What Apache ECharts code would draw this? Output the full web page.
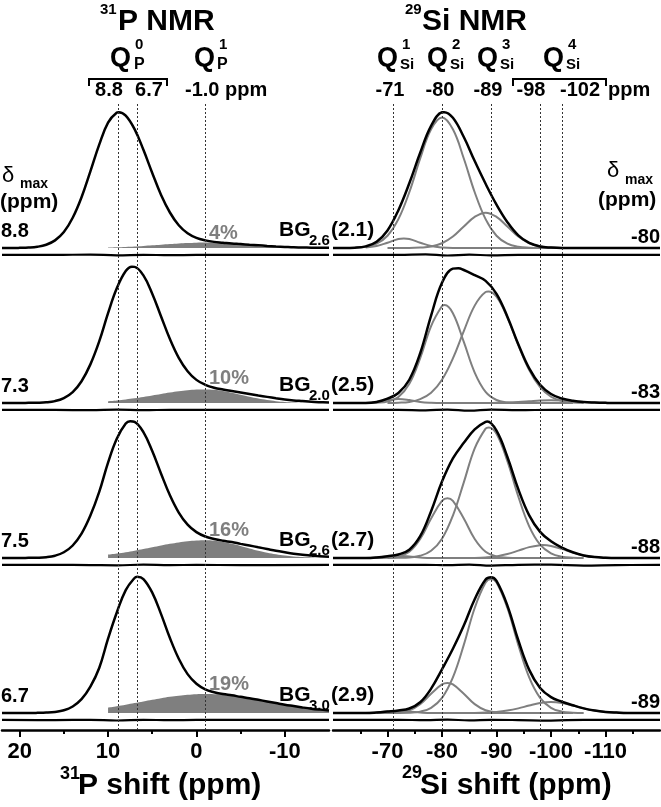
<!DOCTYPE html>
<html><head><meta charset="utf-8">
<script src="https://cdn.jsdelivr.net/npm/echarts@6/dist/echarts.min.js"></script>
<style>html,body{margin:0;padding:0;background:#fff}#c{width:661px;height:807px}</style>
</head><body><div id="c"></div>
<script>
// ---------- DATA ----------
// 31P panel: chemical shift grid (ppm)
const P_X = [22,21,20,19,18,17,16,15,14,13,12,11,10,9,8,7,6,5,4,3,2,1,0,-1,-2,-3,-4,-5,-6,-7,-8,-9,-10,-11,-12,-13,-14,-15];
const P_FILL_X = [10,9,8,7,6,5,4,3,2,1,0,-1,-2,-3,-4,-5,-6,-7,-8,-9,-10,-11,-12,-13,-14,-15];
const P1_SPEC = [0,0,0.1,0.3,0.9,2.4,5.6,11.7,22.2,37.3,56.3,76.0,92.2,99.6,97.4,87.4,72.2,55.2,39.0,26.1,16.7,10.8,7.4,5.6,4.5,3.9,3.3,2.9,2.4,2.0,1.5,1.1,0.8,0.5,0.4,0.2,0.15,0.1];
const P2_SPEC = [0,0,0,0.1,0.2,0.5,1.4,3.6,8.0,16.0,28.4,45.3,66.1,84.5,97.0,100.1,93.8,80.4,63.6,47.0,33.2,23.4,17.0,13.4,11.2,9.9,8.8,7.7,6.6,5.5,4.5,3.5,2.6,1.9,1.4,0.9,0.6,0.4];
const P3_SPEC = [0,0,0,0.1,0.2,0.6,1.7,4.2,9.2,17.9,31.2,48.6,70.2,87.9,98.9,100.1,92.6,78.6,62.0,46.1,33.4,24.5,19.0,15.8,14.0,12.7,11.7,10.4,9.2,7.9,6.6,5.3,4.2,3.2,2.4,1.8,1.2,0.9];
const P4_SPEC = [0,0,0,0,0.1,0.3,0.8,2.0,4.8,10.2,19.4,33.1,54.7,74.1,90.4,99.3,98.5,88.5,72.7,55.1,39.9,28.6,21.5,17.4,15.3,13.9,13.0,11.9,10.9,9.7,8.5,7.3,6.1,5.1,4.1,3.2,2.5,1.9];
// apex of each 31P spectrum [ppm, intensity]
const P_APEX = [[8.8,99.9],[7.3,100.2],[7.5,100.6],[6.7,100.1]];
// Q1(P) component (grey area)
const P1_Q1 = [0.36,0.54,0.79,1.11,1.5,1.95,2.43,2.9,3.34,3.69,3.92,4,3.88,3.53,3.02,2.43,1.83,1.30,0.87,0.54,0.32,0.18,0.09,0.04,0.02,0.01];
const P2_Q1 = [1.35,1.91,2.62,3.47,4.45,5.51,6.61,7.68,8.62,9.36,9.84,10,9.69,8.82,7.55,6.07,4.58,3.25,2.16,1.35,0.80,0.44,0.23,0.11,0.05,0.02];
const P3_Q1 = [2.42,3.24,4.22,5.34,6.58,7.88,9.19,10.41,11.47,12.30,12.82,13,12.68,11.78,10.41,8.76,7.01,5.35,3.88,2.68,1.76,1.10,0.65,0.37,0.2,0.1];
const P4_Q1 = [4.07,5.05,6.13,7.29,8.49,9.69,10.85,11.89,12.77,13.44,13.86,14,13.86,13.44,12.77,11.89,10.85,9.69,8.49,7.29,6.13,5.05,4.07,3.22,2.50,1.89];
const P_RES_X = [22,16,12,9,6,3,0,-5,-15];
const P1_RES = [-5.1,-5.1,-4.8,-5.4,-5.0,-5.3,-5.1,-5.1,-5.1];
const P2_RES = [-5.1,-5.1,-5.3,-4.9,-5.3,-5.0,-5.1,-5.1,-5.1];
const P3_RES = [-5.1,-5.0,-5.2,-5.4,-4.9,-5.2,-5.1,-5.2,-5.1];
const P4_RES = [-5.1,-5.2,-5.0,-5.5,-5.0,-5.3,-5.1,-5.1,-5.1];

// 29Si panel
const SI_X = [-60,-62,-64,-66,-68,-70,-72,-74,-76,-78,-80,-82,-84,-86,-88,-90,-92,-94,-96,-98,-100,-102,-104,-106,-108,-110,-112,-114,-116,-118,-120];
const S1_SPEC = [0,0,0.2,1.2,4.6,12.9,27.8,47.6,70.0,89.8,99.8,95.7,81.6,63.9,47.2,31.9,19.0,9.3,3.7,1.1,0.3,0,0,0,0,0,0,0,0,0,0];
const S2_SPEC = [0,0,0,0,0.8,3.2,7.4,17.1,36.6,64.3,88.4,98.8,97.8,94.0,89.8,80.3,63.5,43.2,25.4,13.4,6.6,3.3,1.6,0.65,0.3,0.1,0,0,0,0,0];
const S3_SPEC = [0,0,0,0,0.4,1.3,2.6,6.1,16.0,34.4,56.2,73.2,84.7,94.6,100.1,93.6,74.3,50.6,31.3,19.2,12.3,7.6,4.2,1.9,0.7,0.2,0,0,0,0,0];
const S4_SPEC = [0,0,0,0,0.4,1.1,1.9,3.3,7.9,17.9,32.1,47.2,64.3,83.7,98.2,97.1,79.0,53.5,31.7,18.4,11.7,8.3,5.7,3.4,1.8,0.8,0.3,0,0,0,0];
// apex of each 29Si spectrum [ppm, intensity]
const S_APEX = [[-80.4,99.9],[-83,99.1],[-88.3,100.3],[-89,99.9]];
// deconvoluted components [ppm, intensity]
const S1_Q1 = [[-66,0.3],[-68,1.4],[-70,3.9],[-72,6.6],[-73,7.0],[-74,6.6],[-76,3.9],[-78,1.4],[-80,0.3],[-82,0],[-104,0]];
const S1_Q2 = [[-64,0.2],[-66,0.9],[-68,3.2],[-70,9.0],[-72,21.2],[-74,41.0],[-76,65.8],[-78,87.3],[-80,96],[-82,87.3],[-84,65.8],[-86,41.0],[-88,21.2],[-90,9.0],[-92,3.2],[-94,0.9],[-96,0.2],[-98,0],[-104,0]];
const S1_Q3 = [[-70,0],[-74,0],[-76,0.3],[-78,1.1],[-80,3.5],[-82,8.4],[-84,15.8],[-86,22.9],[-88,26],[-90,22.9],[-92,15.8],[-94,8.4],[-96,3.5],[-98,1.1],[-100,0.3],[-102,0],[-104,0]];
const S2_Q1 = [[-66,0],[-68,0.8],[-70,2.2],[-72,3],[-74,2.2],[-76,0.8],[-78,0.2],[-80,0],[-104,0]];
const S2_Q2 = [[-66,0],[-68,0.2],[-70,1.0],[-72,4.4],[-74,14.1],[-76,33.0],[-78,56.6],[-80,71.3],[-80.5,72],[-82,66.0],[-84,44.9],[-86,22.4],[-88,8.2],[-90,2.2],[-92,0.4],[-94,0],[-104,0]];
const S2_Q3 = [[-70,0],[-72,0.2],[-74,0.8],[-76,2.8],[-78,7.5],[-80,17.1],[-82,32.8],[-84,52.9],[-86,71.6],[-88,81.6],[-88.5,82],[-90,78.1],[-92,62.8],[-94,42.5],[-96,24.2],[-98,11.6],[-100,4.6],[-102,1.5],[-104,0.4],[-106,0]];
const S2_Q4 = [[-88,0],[-90,0.1],[-92,0.3],[-94,0.65],[-96,1.2],[-98,1.8],[-100,2],[-102,1.8],[-104,1.2],[-106,0.65],[-108,0.3],[-110,0.1],[-112,0]];
const S3_Q1 = [[-66,0],[-68,0.4],[-70,1.1],[-72,1.5],[-74,1.1],[-76,0.4],[-78,0],[-104,0]];
const S3_Q2 = [[-66,0],[-68,0],[-70,0.2],[-72,1.1],[-74,4.6],[-76,14.0],[-78,29.1],[-80,42.0],[-81,44],[-82,42.0],[-84,29.1],[-86,14.0],[-88,4.6],[-90,1.1],[-92,0.2],[-94,0],[-104,0]];
const S3_Q3 = [[-70,0],[-72,0.1],[-74,0.4],[-76,1.6],[-78,5.3],[-80,14.2],[-82,31.2],[-84,55.6],[-86,80.6],[-88,95.1],[-88.6,96],[-90,91.3],[-92,71.2],[-94,45.2],[-96,23.3],[-98,9.8],[-100,3.4],[-102,0.9],[-104,0.2],[-106,0]];
const S3_Q4 = [[-86,0],[-88,0.4],[-90,1.2],[-92,2.9],[-94,5.4],[-96,8.0],[-98,9.4],[-98.5,9.5],[-100,8.9],[-102,6.7],[-104,4.0],[-106,1.9],[-108,0.7],[-110,0.2],[-112,0]];
const S4_Q1 = [[-66,0],[-68,0.4],[-70,1.1],[-72,1.5],[-74,1.1],[-76,0.4],[-78,0],[-104,0]];
const S4_Q2 = [[-68,0],[-70,0],[-72,0.4],[-74,2.0],[-76,6.5],[-78,14.2],[-80,21.0],[-81,22],[-82,21.0],[-84,14.2],[-86,6.5],[-88,2.0],[-90,0.4],[-92,0],[-104,0]];
const S4_Q3 = [[-70,0],[-74,0.2],[-76,1.0],[-78,3.8],[-80,11.1],[-82,26.2],[-84,50.1],[-86,77.2],[-88,95.9],[-89,98.5],[-90,95.9],[-92,77.2],[-94,50.1],[-96,26.2],[-98,11.1],[-100,3.8],[-102,1.0],[-104,0.2],[-106,0]];
const S4_Q4 = [[-86,0],[-88,0.3],[-90,0.8],[-92,1.8],[-94,3.4],[-96,5.5],[-98,7.3],[-100,8],[-102,7.3],[-104,5.5],[-106,3.4],[-108,1.8],[-110,0.8],[-112,0.3],[-114,0]];
const SI_RES_X = [-60,-72,-77,-81,-85,-89,-94,-100,-106,-112,-120];
const S1_RES = [-5.1,-5.1,-4.7,-5.5,-4.9,-5.4,-5.0,-5.1,-5.1,-5.1,-5.1];
const S2_RES = [-5.1,-5.0,-5.4,-4.8,-5.6,-4.8,-5.3,-5.0,-5.1,-5.1,-5.1];
const S3_RES = [-5.1,-5.1,-5.0,-5.3,-4.8,-5.6,-5.0,-4.9,-5.6,-5.2,-5.1];
const S4_RES = [-5.1,-5.0,-5.3,-4.9,-5.4,-5.0,-5.2,-5.6,-5.0,-5.1,-5.1];

// axes / reference lines / labels
const P_TICKS = [20,10,0,-10];
const P_MINOR = [15,5,-5];
const SI_TICKS = [-70,-80,-90,-100,-110];
const SI_MINOR = [-65,-75,-85,-95,-105,-115];
const P_DOTS = [8.8,6.7,-1.0];
const SI_DOTS = [-71,-80,-89,-98,-102];
const LEFT_DELTA = ['8.8','7.3','7.5','6.7'];
const RIGHT_DELTA = ['-80','-83','-88','-89'];
const PCT = ['4%','10%','16%','19%'];
const BG_SUB = ['2.6','2.0','2.6','3.0'];
const BG_PAR = ['(2.1)','(2.5)','(2.7)','(2.9)'];

// ---------- LAYOUT ----------
const FF = '"Liberation Sans", Arial, Helvetica, sans-serif';
const BASE = [248, 403, 558, 713];
const UNIT = 1.36;
const YMIN = -7, YMAX = 100;
const PL = 2, SL = 333, W = 327;
const P_RANGE = [-15, 22], SI_RANGE = [-120, -60];

const P_SPEC = [P1_SPEC,P2_SPEC,P3_SPEC,P4_SPEC];
const P_Q1 = [P1_Q1,P2_Q1,P3_Q1,P4_Q1];
const P_RES = [P1_RES,P2_RES,P3_RES,P4_RES];
const S_SPEC = [S1_SPEC,S2_SPEC,S3_SPEC,S4_SPEC];
const S_COMP = [[S1_Q1,S1_Q2,S1_Q3],[S2_Q1,S2_Q2,S2_Q3,S2_Q4],[S3_Q1,S3_Q2,S3_Q3,S3_Q4],[S4_Q1,S4_Q2,S4_Q3,S4_Q4]];
const S_RES = [S1_RES,S2_RES,S3_RES,S4_RES];

const zip = (xs, ys) => xs.map((x, i) => [x, ys[i]]);
const withApex = (pts, apex) => pts.filter(p => p[0] !== apex[0]).concat([apex]).sort((a, b) => b[0] - a[0]);

const grid = [
  {left: PL, top: 103, width: W, height: 627},
  {left: SL, top: 103, width: W, height: 627}
];
const xAxis = [];
const yAxis = [];
function mainAxis(gi, range, ticks) {
  return {type:'value', gridIndex: gi, min: range[0], max: range[1], inverse: true, position:'bottom',
    axisLine:{show:true, onZero:false, lineStyle:{color:'#000', width:2.5}},
    axisTick:{show:true, inside:false, length:7, customValues: ticks, lineStyle:{color:'#000', width:2}},
    axisLabel:{show:true, customValues: ticks, margin:11, color:'#000', fontSize:22, fontWeight:'bold', fontFamily:FF, formatter: v => String(v)},
    splitLine:{show:false}, minorTick:{show:false}};
}
function minorAxis(gi, range, ticks) {
  return {type:'value', gridIndex: gi, min: range[0], max: range[1], inverse: true, position:'bottom', offset:0,
    axisLine:{show:false, onZero:false},
    axisTick:{show:true, inside:false, length:4, customValues: ticks, lineStyle:{color:'#000', width:2}},
    axisLabel:{show:false}, splitLine:{show:false}};
}
xAxis.push(mainAxis(0, P_RANGE, P_TICKS));
xAxis.push(mainAxis(1, SI_RANGE, SI_TICKS));
xAxis.push(minorAxis(0, P_RANGE, P_MINOR));
xAxis.push(minorAxis(1, SI_RANGE, SI_MINOR));
yAxis.push({type:'value', gridIndex:0, min:0, max:1, show:false});
yAxis.push({type:'value', gridIndex:1, min:0, max:1, show:false});

for (let c = 0; c < 2; c++) {
  for (let r = 0; r < 4; r++) {
    const gi = grid.length;
    grid.push({left: c ? SL : PL, width: W, top: BASE[r] - YMAX * UNIT, height: (YMAX - YMIN) * UNIT});
    xAxis.push({type:'value', gridIndex: gi, min: c ? SI_RANGE[0] : P_RANGE[0], max: c ? SI_RANGE[1] : P_RANGE[1], inverse:true, show:false});
    yAxis.push({type:'value', gridIndex: gi, min: YMIN, max: YMAX, show:false});
  }
}

const series = [];
const dotLine = {color:'#333', width:1, type:[2,2]};
series.push({type:'line', xAxisIndex:0, yAxisIndex:0, data:[], silent:true,
  markLine:{silent:true, symbol:['none','none'], label:{show:false}, lineStyle:dotLine, data:P_DOTS.map(v => ({xAxis:v}))}});
series.push({type:'line', xAxisIndex:1, yAxisIndex:1, data:[], silent:true,
  markLine:{silent:true, symbol:['none','none'], label:{show:false}, lineStyle:dotLine, data:SI_DOTS.map(v => ({xAxis:v}))}});

const GRAY = '#7f7f7f';
const SM = 0.4;
for (let r = 0; r < 4; r++) {
  const xi = 4 + r, yi = 2 + r;
  series.push({type:'line', xAxisIndex:xi, yAxisIndex:yi, data: zip(P_FILL_X, P_Q1[r]), smooth:SM, symbol:'none', clip:false, silent:true,
    lineStyle:{width:0, color:GRAY}, areaStyle:{color:GRAY, opacity:1}, z:2});
  series.push({type:'line', xAxisIndex:xi, yAxisIndex:yi, data: withApex(zip(P_X, P_SPEC[r]), P_APEX[r]), smooth:SM, symbol:'none', clip:false, silent:true,
    lineStyle:{width:2.5, color:'#000'}, z:4});
  series.push({type:'line', xAxisIndex:xi, yAxisIndex:yi, data: zip(P_RES_X, P_RES[r]), smooth:SM, symbol:'none', clip:false, silent:true,
    lineStyle:{width:2.2, color:'#000'}, z:4});
}
for (let r = 0; r < 4; r++) {
  const xi = 8 + r, yi = 6 + r;
  S_COMP[r].forEach(comp => {
    series.push({type:'line', xAxisIndex:xi, yAxisIndex:yi, data: comp, smooth:SM, symbol:'none', clip:false, silent:true,
      lineStyle:{width:2, color:GRAY}, z:3});
  });
  series.push({type:'line', xAxisIndex:xi, yAxisIndex:yi, data: withApex(zip(SI_X, S_SPEC[r]), S_APEX[r]), smooth:SM, symbol:'none', clip:false, silent:true,
    lineStyle:{width:2.5, color:'#000'}, z:4});
  series.push({type:'line', xAxisIndex:xi, yAxisIndex:yi, data: zip(SI_RES_X, S_RES[r]), smooth:SM, symbol:'none', clip:false, silent:true,
    lineStyle:{width:2.2, color:'#000'}, z:4});
}

// ---------- TEXT ----------
function T(text, x, y, size, o) {
  o = o || {};
  const a = o.a || 'left';
  return {type:'text', x:x, y:y, silent:true, z:10,
    style:{text:text, font:(o.w || 'bold') + ' ' + size + 'px ' + (o.f || FF), fill:o.c || '#000',
      textAlign:a, textVerticalAlign:'middle', align:a, verticalAlign:'middle'}};
}
function PL_(pts) {
  return {type:'polyline', silent:true, z:10, shape:{points:pts}, style:{stroke:'#000', lineWidth:2, fill:null}};
}
const g = [];
g.push(T('31', 100, 10, 15), T('P NMR', 118, 22, 30));
g.push(T('29', 405, 10, 15), T('Si NMR', 422, 22, 30));
g.push(T('Q', 110, 59, 27), T('0', 135, 45, 15), T('P', 134, 65, 16));
g.push(T('Q', 194, 59, 27), T('1', 219, 45, 15), T('P', 217, 65, 16));
[[377,'1'],[427,'2'],[477,'3'],[543,'4']].forEach(q => {
  g.push(T('Q', q[0], 59, 27), T(q[1], q[0] + 25, 45, 15), T('Si', q[0] + 23, 65, 15));
});
g.push(T('8.8', 109, 90, 20, {a:'center'}), T('6.7', 149, 90, 20, {a:'center'}), T('-1.0 ppm', 185, 90, 20));
g.push(T('-71', 390, 90, 20, {a:'center'}), T('-80', 440, 90, 20, {a:'center'}), T('-89', 488, 90, 20, {a:'center'}),
       T('-98', 531, 90, 20, {a:'center'}), T('-102', 580, 90, 20, {a:'center'}), T('ppm', 608, 90, 20));
g.push(PL_([[89,86],[89,79],[167,79],[167,86]]));
g.push(PL_([[513,86],[513,79],[606,79],[606,86]]));
g.push(T('δ', 2, 176, 22, {w:'normal'}), T('max', 20, 184, 14), T('(ppm)', 0, 202, 21));
g.push(T('δ', 607, 171, 22, {w:'normal'}), T('max', 625, 180, 14), T('(ppm)', 598, 200, 21));
const PCT_OFF = [15, 25, 28, 29];
for (let r = 0; r < 4; r++) {
  const b = BASE[r];
  g.push(T(LEFT_DELTA[r], 1, b - 17, 20));
  g.push(T(PCT[r], 209, b - PCT_OFF[r], 20, {c:'#7f7f7f'}));
  g.push(T('BG', 279, b - 18, 21), T(BG_SUB[r], 309, b - 7, 15), T(BG_PAR[r], 331, b - 18, 21));
  g.push(T(RIGHT_DELTA[r], 660, b - 11, 20, {a:'right'}));
}
g.push(T('31', 60, 774, 18), T('P shift (ppm)', 78, 786, 30));
g.push(T('29', 402, 773, 18), T('Si shift (ppm)', 420, 786, 30));

const chart = echarts.init(document.getElementById('c'), null, {renderer:'canvas'});
chart.setOption({animation:false, backgroundColor:'#fff', grid, xAxis, yAxis, series, graphic:{elements:g}});
</script>
</body></html>
